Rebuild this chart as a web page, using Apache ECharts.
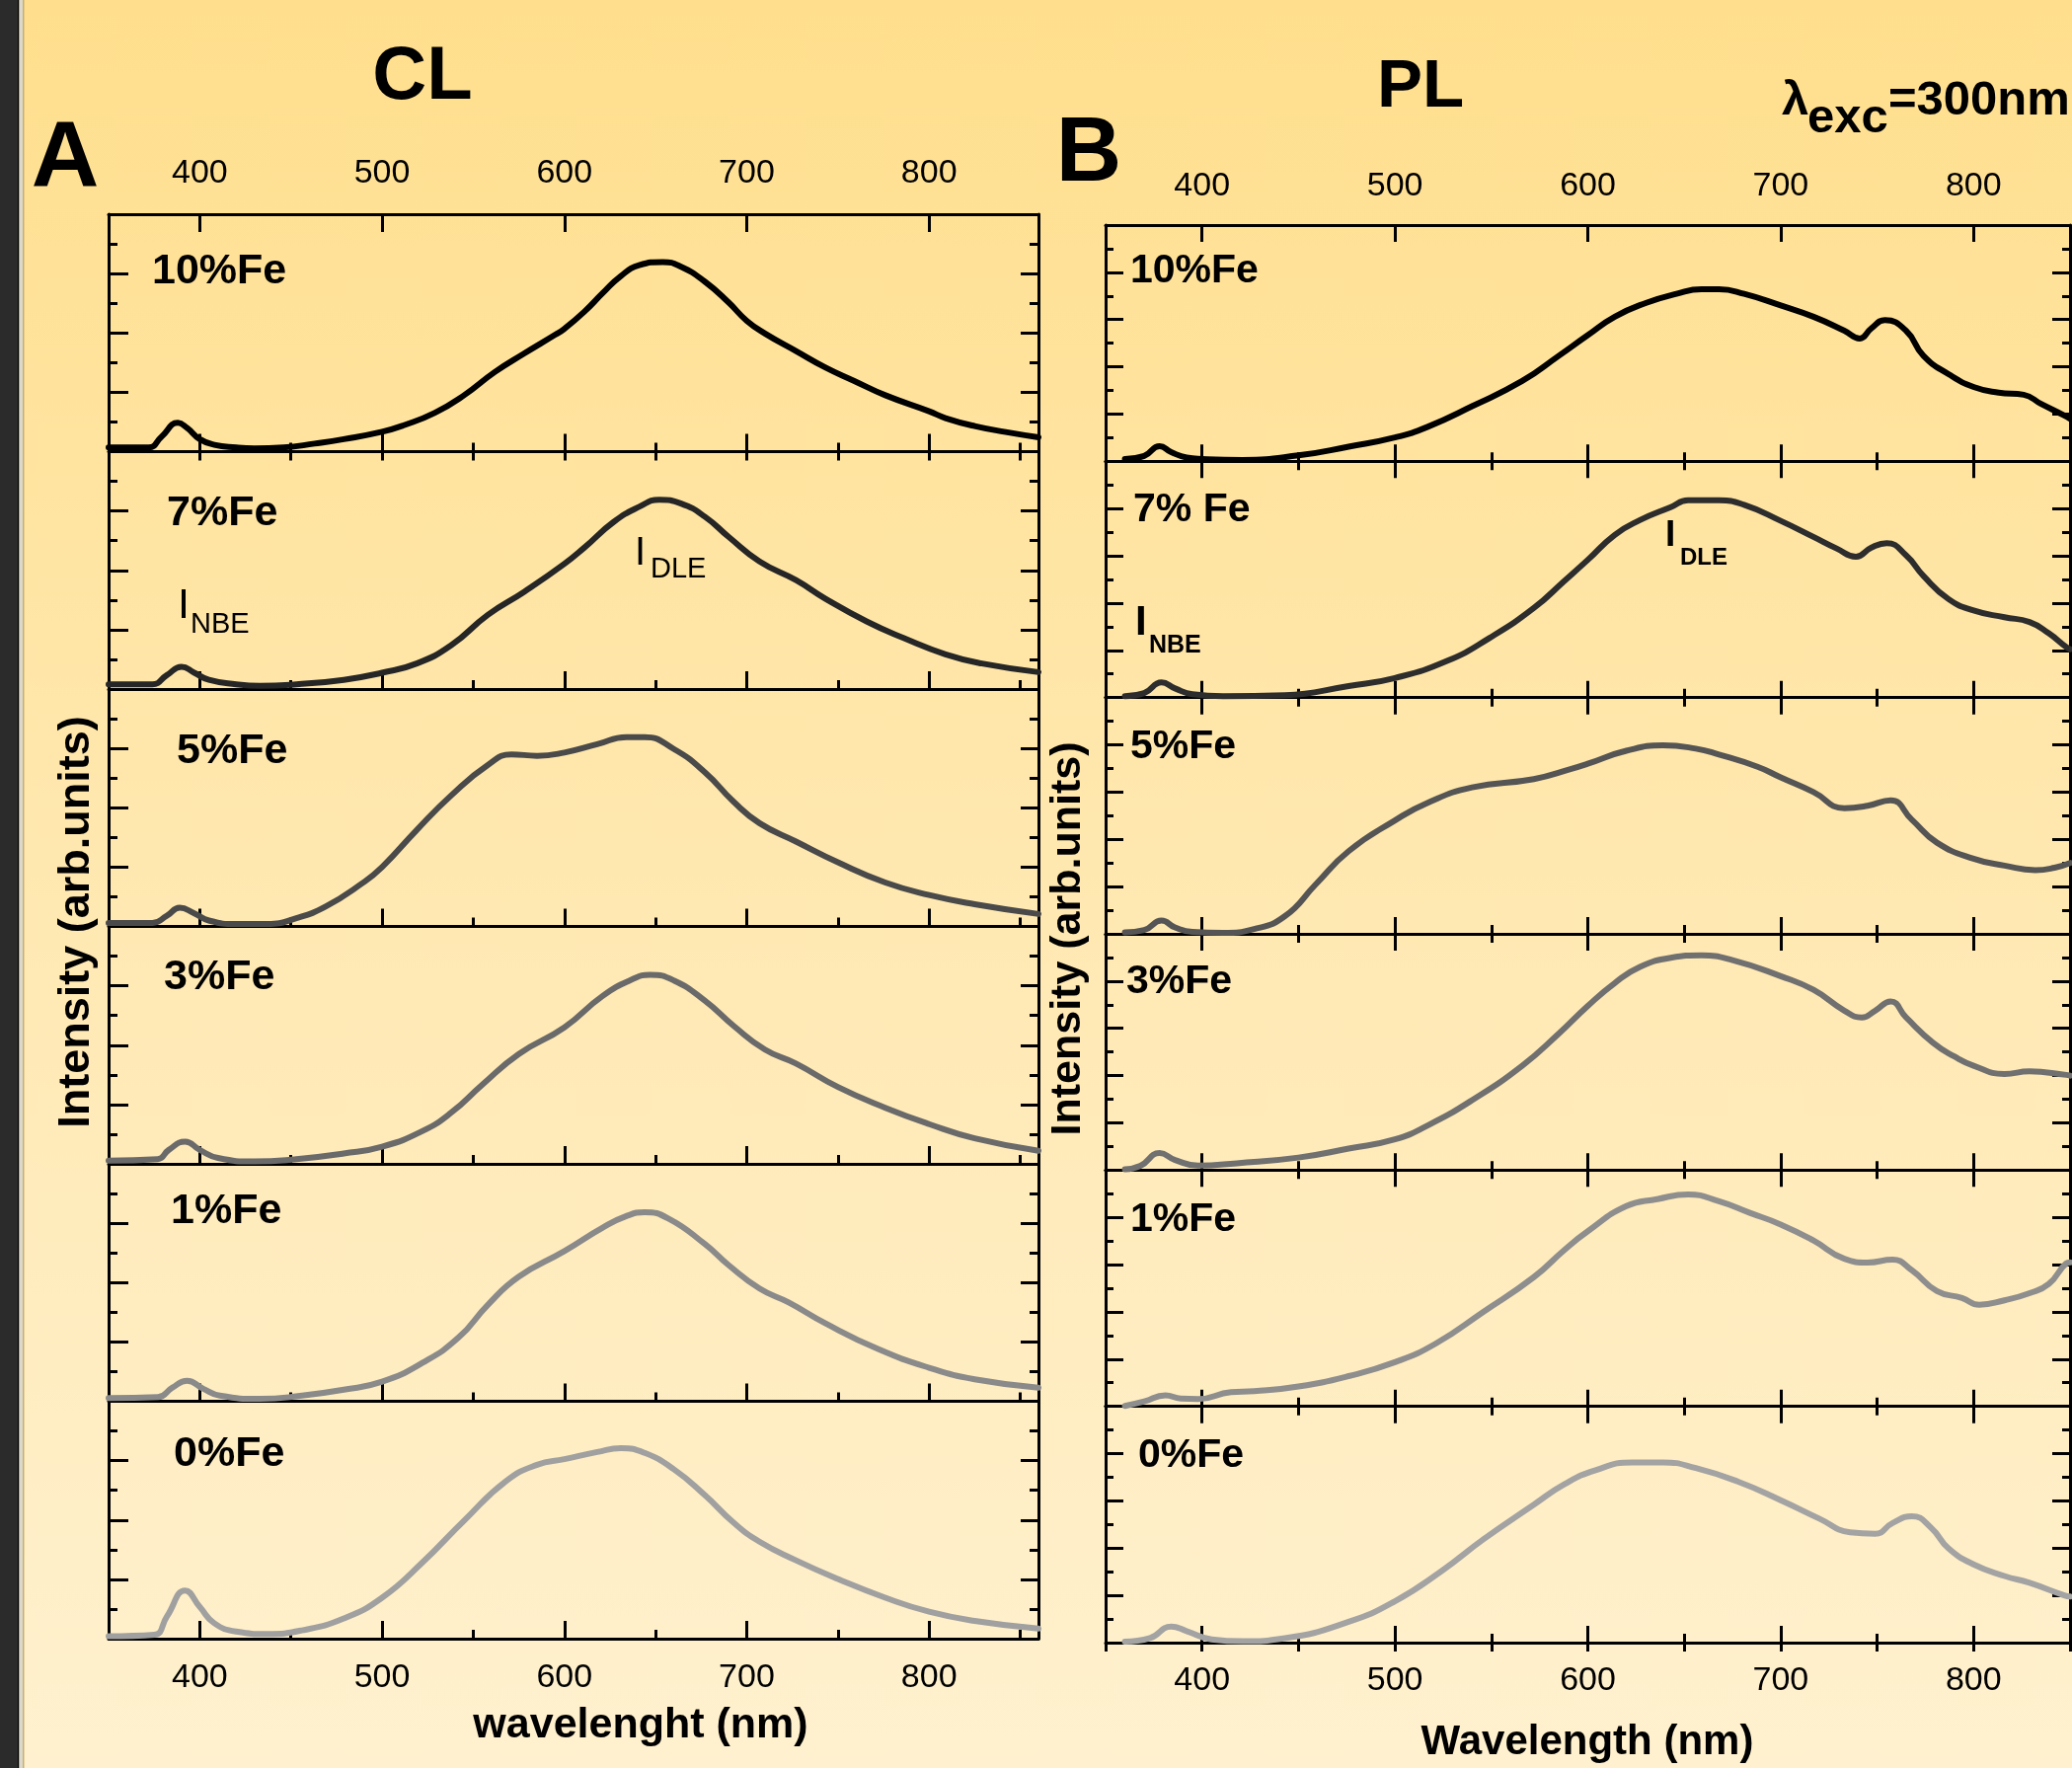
<!DOCTYPE html>
<html><head><meta charset="utf-8">
<script src="https://cdn.jsdelivr.net/npm/echarts@6/dist/echarts.min.js"></script>
<style>
html,body{margin:0;padding:0;width:2099px;height:1791px;overflow:hidden;}
#c{width:2099px;height:1791px;background:linear-gradient(to bottom,#FFDF8D 0%,#FFE9B4 55%,#FFF1CF 100%);}
</style></head><body><div id="c"></div>
<script>
// ---------- data ----------
const majorTicks = [400, 500, 600, 700, 800];
const clLabels = ['10%Fe', '7%Fe', '5%Fe', '3%Fe', '1%Fe', '0%Fe'];
const plLabels = ['10%Fe', '7% Fe', '5%Fe', '3%Fe', '1%Fe', '0%Fe'];

// CL spectra [wavelength nm, intensity arb.]
const cl10 = [[350,0.14],[372,0.14],[379,0.5],[388,0.97],[393,0.8],[400,0.42],[408,0.23],[420,0.14],[430,0.11],[446,0.14],[463,0.27],[479,0.42],[500,0.67],[512,0.89],[529,1.31],[545,1.9],[562,2.69],[578,3.31],[595,3.94],[600,4.14],[611,4.72],[621,5.34],[631,5.92],[641,6.28],[654,6.39],[664,6.23],[677,5.73],[690,5.03],[700,4.41],[710,3.98],[727,3.39],[743,2.84],[759,2.38],[776,1.9],[800,1.36],[809,1.13],[825,0.86],[842,0.66],[860,0.48]];
const cl7 = [[350,0.16],[374,0.16],[382,0.47],[390,0.75],[397,0.55],[405,0.31],[420,0.16],[433,0.11],[453,0.16],[479,0.31],[500,0.55],[519,0.86],[538,1.48],[558,2.5],[578,3.28],[600,4.22],[611,4.77],[627,5.63],[641,6.14],[652,6.38],[664,6.25],[677,5.81],[690,5.13],[707,4.3],[727,3.67],[743,3.05],[766,2.27],[786,1.72],[809,1.17],[829,0.86],[860,0.57]];
const cl5 = [[350,0.12],[374,0.12],[382,0.36],[389,0.63],[397,0.44],[405,0.2],[420,0.08],[437,0.08],[453,0.28],[469,0.67],[489,1.45],[500,2.0],[519,3.25],[538,4.42],[558,5.44],[571,5.8],[585,5.75],[600,5.86],[618,6.14],[634,6.38],[644,6.38],[660,5.98],[677,5.2],[693,4.19],[707,3.48],[727,2.86],[750,2.16],[776,1.48],[800,1.06],[825,0.75],[860,0.42]];
const cl3 = [[350,0.11],[377,0.16],[383,0.47],[392,0.75],[400,0.47],[410,0.2],[430,0.08],[453,0.16],[479,0.35],[500,0.58],[522,1.1],[538,1.73],[555,2.67],[575,3.7],[600,4.6],[621,5.66],[637,6.21],[647,6.37],[660,6.18],[677,5.5],[693,4.64],[710,3.85],[727,3.38],[750,2.59],[776,1.89],[800,1.34],[825,0.86],[860,0.44]];
const cl1 = [[350,0.11],[377,0.14],[385,0.46],[393,0.69],[402,0.42],[411,0.19],[433,0.08],[456,0.19],[479,0.39],[500,0.66],[522,1.29],[542,2.15],[558,3.25],[575,4.2],[600,5.06],[621,5.85],[634,6.24],[644,6.37],[657,6.16],[677,5.3],[690,4.59],[707,3.8],[723,3.33],[743,2.63],[772,1.76],[800,1.13],[825,0.74],[860,0.46]];
const cl0 = [[350,0.08],[375,0.13],[382,0.75],[392,1.62],[400,1.07],[408,0.52],[420,0.24],[437,0.16],[456,0.28],[479,0.68],[500,1.38],[522,2.56],[545,3.98],[568,5.31],[585,5.86],[600,6.05],[618,6.29],[631,6.42],[644,6.26],[660,5.71],[677,4.84],[693,3.9],[707,3.27],[727,2.64],[750,2.01],[776,1.38],[800,0.91],[825,0.6],[860,0.34]];

// PL spectra [wavelength nm, intensity arb.]
const pl10 = [[360,0.1],[370,0.23],[378,0.64],[384,0.39],[392,0.16],[400,0.1],[421,0.06],[450,0.25],[476,0.62],[500,1.01],[517,1.46],[540,2.33],[566,3.4],[585,4.47],[600,5.34],[614,6.12],[630,6.7],[646,7.09],[659,7.28],[668,7.28],[681,7.09],[700,6.6],[717,6.12],[733,5.53],[741,5.2],[747,5.63],[754,5.98],[765,5.53],[774,4.47],[787,3.69],[800,3.15],[813,2.91],[826,2.82],[835,2.43],[847,1.94],[850,1.8]];
const pl7 = [[360,0.06],[370,0.19],[379,0.64],[386,0.39],[395,0.14],[411,0.06],[443,0.1],[476,0.49],[500,0.83],[527,1.55],[549,2.52],[572,3.79],[588,4.95],[600,5.83],[614,6.89],[627,7.51],[643,8.06],[652,8.35],[668,8.35],[681,8.16],[700,7.48],[717,6.8],[729,6.31],[739,5.96],[747,6.35],[755,6.54],[765,6.02],[774,5.15],[787,4.17],[800,3.69],[816,3.4],[829,3.2],[839,2.72],[848,2.14],[850,2.05]];
const pl5 = [[360,0.06],[370,0.16],[379,0.56],[386,0.27],[395,0.08],[411,0.04],[427,0.2],[443,0.75],[459,2.1],[476,3.5],[500,4.8],[517,5.55],[540,6.2],[572,6.55],[591,6.97],[600,7.2],[620,7.75],[639,7.98],[656,7.84],[668,7.59],[688,7.07],[700,6.62],[717,6.0],[733,5.32],[745,5.42],[757,5.65],[768,4.83],[781,3.86],[800,3.18],[816,2.89],[832,2.7],[842,2.8],[850,3.0]];
const pl3 = [[360,0.04],[368,0.18],[378,0.72],[386,0.43],[398,0.19],[418,0.29],[450,0.53],[476,0.91],[500,1.3],[517,1.89],[540,2.96],[566,4.42],[585,5.78],[600,6.95],[614,7.92],[627,8.6],[643,8.99],[659,9.09],[675,8.89],[700,8.21],[717,7.63],[733,6.75],[742,6.46],[749,6.75],[757,7.14],[765,6.46],[779,5.39],[790,4.81],[800,4.42],[816,4.07],[829,4.18],[848,4.03],[850,4.0]];
const pl1 = [[360,0.02],[370,0.21],[381,0.47],[389,0.33],[398,0.31],[415,0.6],[427,0.64],[450,0.84],[476,1.28],[500,1.87],[521,2.65],[546,4.01],[572,5.47],[588,6.63],[600,7.41],[620,8.48],[636,8.77],[652,8.97],[668,8.68],[684,8.19],[700,7.7],[717,7.02],[733,6.25],[745,6.09],[758,6.21],[768,5.76],[781,4.88],[794,4.59],[803,4.3],[816,4.49],[829,4.79],[839,5.18],[848,6.05],[850,6.1]];
const pl0 = [[360,0.04],[373,0.19],[384,0.68],[392,0.49],[405,0.14],[421,0.06],[443,0.19],[476,0.88],[500,1.75],[524,3.02],[546,4.38],[572,5.84],[588,6.71],[604,7.3],[623,7.63],[639,7.63],[656,7.39],[678,6.81],[700,6.03],[720,5.25],[736,4.67],[749,4.61],[758,5.06],[768,5.35],[778,4.86],[787,3.99],[800,3.31],[816,2.82],[829,2.53],[847,2.0],[850,1.95]];

const clSeries = [cl10, cl7, cl5, cl3, cl1, cl0];
const plSeries = [pl10, pl7, pl5, pl3, pl1, pl0];
const clColors = ['#000000', '#262626', '#4a4a4a', '#6a6a6a', '#8a8a8a', '#a0a0a0'];
const plColors = ['#000000', '#2d2d2d', '#555555', '#707070', '#8e8e8e', '#a3a3a3'];

// ---------- build ----------
const FONT = 'Liberation Sans, Arial, Helvetica, sans-serif';
const grid = [], xAxis = [], yAxis = [], series = [];
const lineOn = {show: true, onZero: false, lineStyle: {color: '#000', width: 3}};

function addX(gi, pos, min, max, major, len, showLine, label) {
  const a = {type: 'value', gridIndex: gi, position: pos, min: min, max: max,
    splitLine: {show: false}, axisLine: showLine ? lineOn : {show: false},
    axisTick: {show: len > 0, inside: true, length: len, lineStyle: {color: '#000', width: 3}},
    axisLabel: {show: false}};
  if (major) a.axisTick.customValues = majorTicks; else a.interval = 50;
  if (label) a.axisLabel = {show: true, customValues: majorTicks, fontSize: 34, color: '#000', fontFamily: FONT, margin: label};
  xAxis.push(a); return xAxis.length - 1;
}
function addY(gi, pos, max, interval, len, showLine) {
  yAxis.push({type: 'value', gridIndex: gi, position: pos, min: 0, max: max, interval: interval,
    splitLine: {show: false}, axisLine: showLine ? lineOn : {show: false},
    axisTick: {show: true, inside: true, length: len, lineStyle: {color: '#000', width: 3}},
    axisLabel: {show: false}});
  return yAxis.length - 1;
}

// CL column
for (let i = 0; i < 6; i++) {
  const gi = grid.length;
  grid.push({left: 110, top: 217 + i * 240.5, width: 942, height: 240.5});
  const xb = addX(gi, 'bottom', 350, 860, true, 18, true, i === 5 ? 23 : 0);
  addX(gi, 'bottom', 350, 860, false, 9, false, 0);
  if (i === 0) {
    addX(gi, 'top', 350, 860, true, 18, true, 24);
    addX(gi, 'top', 350, 860, false, 9, false, 0);
  }
  const yl = addY(gi, 'left', 8, 1, 9, true);
  addY(gi, 'left', 8, 2, 20, false);
  addY(gi, 'right', 8, 1, 9, true);
  addY(gi, 'right', 8, 2, 18, false);
  series.push({type: 'line', xAxisIndex: xb, yAxisIndex: yl, data: clSeries[i], showSymbol: false,
    symbol: 'none', smooth: 0.5, silent: true, z: 3,
    lineStyle: {width: 6, color: clColors[i], join: 'round', cap: 'round'}});
}
// PL column
const plH = (1664 - 228) / 6;
for (let i = 0; i < 6; i++) {
  const gi = grid.length;
  grid.push({left: 1120, top: 228 + i * plH, width: 977, height: plH});
  const xb = addX(gi, 'bottom', 350, 850, true, 17, true, i === 5 ? 22 : 0);
  addX(gi, 'bottom', 350, 850, false, 9, false, 0);
  addX(gi, 'top', 350, 850, true, 17, true, i === 0 ? 22 : 0);
  addX(gi, 'top', 350, 850, false, 9, false, 0);
  const yl = addY(gi, 'left', 10, 1, 8, true);
  addY(gi, 'left', 10, 2, 18, false);
  addY(gi, 'right', 10, 1, 8, true);
  addY(gi, 'right', 10, 2, 18, false);
  series.push({type: 'line', xAxisIndex: xb, yAxisIndex: yl, data: plSeries[i], showSymbol: false,
    symbol: 'none', smooth: 0.5, silent: true, z: 3,
    lineStyle: {width: 6, color: plColors[i], join: 'round', cap: 'round'}});
}

// ---------- texts ----------
function txt(text, x, y, size, weight, align, extra) {
  const o = {type: 'text', x: x, y: y, silent: true, z: 10,
    style: {text: text, x: 0, y: 0, fill: '#000', fontSize: size, fontWeight: weight,
      fontFamily: FONT, align: align || 'left', verticalAlign: 'middle'}};
  if (extra) Object.assign(o, extra);
  return o;
}
const clLabelPos = [[154, 275], [169, 520], [179, 761], [166, 990], [173, 1227], [176, 1473]];
const plLabelPos = [[1145, 275], [1148, 517], [1145, 757], [1141, 995], [1145, 1236], [1153, 1475]];
const graphic = [
  {type: 'rect', shape: {x: 0, y: 0, width: 18, height: 1791}, style: {fill: '#2b2b2b'}, silent: true, z: 20},
  {type: 'rect', shape: {x: 18, y: 0, width: 1.5, height: 1791}, style: {fill: '#000'}, silent: true, z: 20},
  {type: 'rect', shape: {x: 19.5, y: 0, width: 3.5, height: 1791}, style: {fill: '#dcd8cc'}, silent: true, z: 20},
  {type: 'rect', shape: {x: 23, y: 0, width: 1.5, height: 1791}, style: {fill: '#c9ae6c'}, silent: true, z: 20},
  txt('CL', 428, 79, 76, 'bold', 'center'),
  txt('PL', 1439, 89, 69, 'bold', 'center'),
  txt('A', 66, 163, 95, 'bold', 'center'),
  txt('B', 1103, 158, 92, 'bold', 'center'),
  txt('λ', 1805, 102, 49, 'bold', 'left'),
  txt('exc', 1831, 120, 49, 'bold', 'left'),
  txt('=300nm', 1913, 102, 49, 'bold', 'left'),
  txt('wavelenght (nm)', 649, 1748, 43, 'bold', 'center'),
  txt('Wavelength (nm)', 1608, 1765, 42, 'bold', 'center'),
  txt('Intensity (arb.units)', 78, 934, 45, 'bold', 'center', {rotation: Math.PI / 2}),
  txt('Intensity (arb.units)', 1082, 951, 43, 'bold', 'center', {rotation: Math.PI / 2}),
  txt('I', 180, 614, 43, 'normal', 'left'),
  txt('NBE', 193, 633, 29, 'normal', 'left'),
  txt('I', 643, 561, 40, 'normal', 'left'),
  txt('DLE', 659, 577, 29, 'normal', 'left'),
  txt('I', 1150, 631, 42, 'bold', 'left'),
  txt('NBE', 1164, 654, 25, 'bold', 'left'),
  txt('I', 1687, 543, 37, 'bold', 'left'),
  txt('DLE', 1702, 565, 24, 'bold', 'left')
];
clLabels.forEach((t, i) => graphic.push(txt(t, clLabelPos[i][0], clLabelPos[i][1], 43, 'bold', 'left')));
plLabels.forEach((t, i) => graphic.push(txt(t, plLabelPos[i][0], plLabelPos[i][1], 41, 'bold', 'left')));

const chart = echarts.init(document.getElementById('c'), null, {renderer: 'canvas', width: 2099, height: 1791});
chart.setOption({animation: false, backgroundColor: 'transparent', grid: grid, xAxis: xAxis, yAxis: yAxis,
  series: series, graphic: graphic});
</script></body></html>
